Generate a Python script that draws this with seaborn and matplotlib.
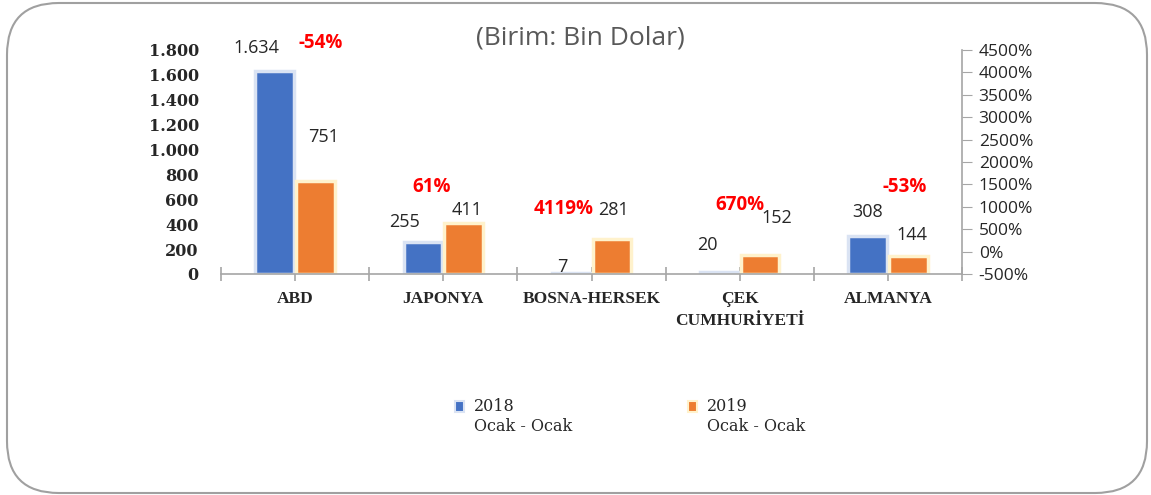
import pandas as pd
import seaborn as sns
import matplotlib.pyplot as plt
from matplotlib.patches import FancyBboxPatch
from matplotlib.ticker import FuncFormatter, MultipleLocator

# veriler (Birim: Bin Dolar)
ulkeler = ['ABD', 'JAPONYA', 'BOSNA-HERSEK', 'ÇEK\nCUMHURİYETİ', 'ALMANYA']
deger_2018 = [1634, 255, 7, 20, 308]
deger_2019 = [751, 411, 281, 152, 144]
degisim = ['-54%', '61%', '4119%', '670%', '-53%']
donem_2018 = '2018\nOcak - Ocak'
donem_2019 = '2019\nOcak - Ocak'

# etiket yerleri: (kategoriye göre x kayması, sol eksende y)
etiket_2018 = [(-0.26, 1816), (-0.26, 418), (-0.20, 56), (-0.22, 233), (-0.14, 498)]
etiket_2019 = [(0.19, 1101), (0.16, 514), (0.15, 514), (0.25, 450), (0.16, 313)]
etiket_yuzde = [(0.17, 1856), (-0.08, 699), (-0.19, 522), (0.0, 554), (0.11, 699)]


def binlik(v):
    # Türkçe binlik ayracı: 1.634
    return f'{int(v):,}'.replace(',', '.')


df = pd.DataFrame({
    'ulke': ulkeler * 2,
    'deger': deger_2018 + deger_2019,
    'donem': [donem_2018] * 5 + [donem_2019] * 5,
})

sns.set_style('white')
plt.rcParams['font.family'] = ['Liberation Serif', 'DejaVu Serif']

fig = plt.figure(figsize=(11.51, 4.95), dpi=100)
ax = fig.add_axes([221 / 1151, 1 - 274 / 495, 741 / 1151, 224 / 495])

renkler = {donem_2018: '#4472C4', donem_2019: '#ED7D31'}
kenar = {donem_2018: '#DAE3F3', donem_2019: '#FFF2CC'}
sns.barplot(data=df, x='ulke', y='deger', hue='donem', palette=renkler,
            width=0.55, gap=0.05, saturation=1, ax=ax)

# Excel'deki açık kenarlık
for i, p in enumerate(ax.patches[:10]):
    p.set_edgecolor(kenar[donem_2018] if i < 5 else kenar[donem_2019])
    p.set_linewidth(2.5)

ax.set_xlim(-0.5, 4.5)
ax.set_ylim(0, 1800)
ax.yaxis.set_major_locator(MultipleLocator(200))
ax.yaxis.set_major_formatter(FuncFormatter(lambda v, p: binlik(v)))
ax.set_xlabel('')
ax.set_ylabel('')
for s in ['top', 'right', 'left']:
    ax.spines[s].set_visible(False)
ax.spines['bottom'].set_color('#A6A6A6')
ax.spines['bottom'].set_linewidth(1.2)

ax.tick_params(axis='y', length=0, pad=16)
for t in ax.get_yticklabels():
    t.set_fontweight('bold')
    t.set_family('DejaVu Serif')
    t.set_fontsize(11.5)
ax.set_xticks(range(5))
ax.set_xticklabels(ulkeler, fontweight='bold', fontsize=12.5, linespacing=1.55)
ax.set_xticks([-0.5, 0.5, 1.5, 2.5, 3.5, 4.5], minor=True)
ax.tick_params(axis='x', which='both', direction='inout', length=10,
               color='#A6A6A6', width=1.2, pad=7, bottom=True)

# ikinci eksen (yüzde değişim)
ax2 = ax.twinx()
ax2.set_ylim(-500, 4500)
ax2.yaxis.set_major_locator(MultipleLocator(500))
ax2.yaxis.set_major_formatter(FuncFormatter(lambda v, p: f'{int(v)}%'))
for s in ['top', 'left', 'bottom']:
    ax2.spines[s].set_visible(False)
ax2.spines['right'].set_color('#A6A6A6')
ax2.spines['right'].set_linewidth(1.2)
ax2.tick_params(axis='y', direction='out', length=7, color='#A6A6A6',
                labelsize=12.5, labelcolor='#262626', pad=5)
for t in ax2.get_yticklabels():
    t.set_family('Open Sans')

sans = ['Open Sans', 'DejaVu Sans']
for i in range(5):
    dx, y = etiket_2018[i]
    ax.text(i + dx, y, binlik(deger_2018[i]), ha='center', va='center', fontsize=13,
            color='#262626', family=sans, clip_on=False)
    dx, y = etiket_2019[i]
    ax.text(i + dx, y, binlik(deger_2019[i]), ha='center', va='center', fontsize=13,
            color='#262626', family=sans, clip_on=False)
    dx, y = etiket_yuzde[i]
    ax.text(i + dx, y, degisim[i], ha='center', va='center', fontsize=13.5,
            fontweight='bold', color='#FF0000', family=sans, clip_on=False)

sns.move_legend(ax, 'upper center', bbox_to_anchor=(630 / 1151, 1 - 384 / 495),
                bbox_transform=fig.transFigure, ncol=2, title=None, frameon=False,
                prop={'family': 'DejaVu Serif', 'size': 11.5}, handlelength=0.6,
                handleheight=0.6, columnspacing=7.25, handletextpad=0.6,
                labelspacing=0.2)
leg = ax.get_legend()
for h, d in zip(leg.legend_handles, [donem_2018, donem_2019]):
    h.set_edgecolor(kenar[d])
    h.set_linewidth(1.5)
    h.set_y(h.get_y() + 8)  # kare ilk satırla aynı hizada

fig.text(580 / 1151, 1 - 38 / 495, '(Birim: Bin Dolar)', ha='center', va='center',
         fontsize=19, color='#595959', family=sans)

# yuvarlak çerçeve
cerceve = FancyBboxPatch((7 / 1151, 2 / 495), 1140 / 1151, 490 / 495,
                         boxstyle='round,pad=0,rounding_size=0.045',
                         transform=fig.transFigure, fill=False,
                         edgecolor='#A0A0A0', linewidth=1.5, mutation_aspect=1151 / 495)
fig.patches.append(cerceve)

fig.savefig('out.png', dpi=100)
